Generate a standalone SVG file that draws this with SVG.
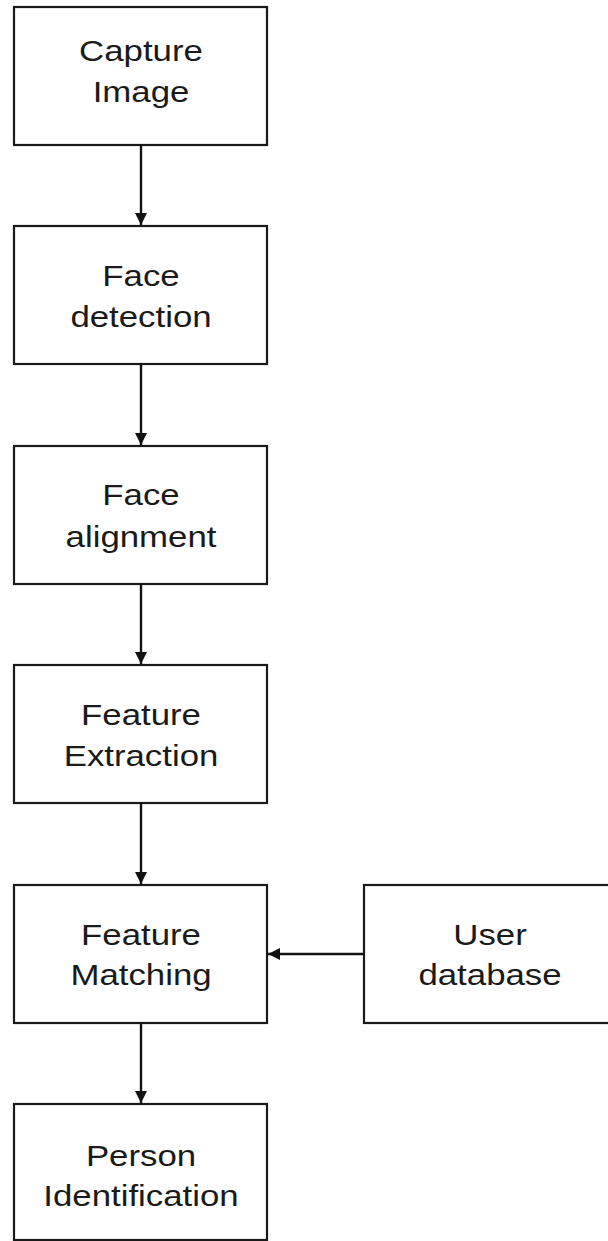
<svg xmlns="http://www.w3.org/2000/svg" width="608" height="1241" viewBox="0 0 608 1241">
  <style>
    .box { fill: #ffffff; stroke: #1a1a1a; stroke-width: 2.2; }
    .lbl { font-family: "Liberation Sans", Arial, sans-serif; font-size: 29px; fill: #1a1a1a; text-anchor: middle; }
    .wire { stroke: #111111; stroke-width: 2.4; fill: none; }
  </style>
  <defs>
    <marker id="head" viewBox="0 0 10 10" refX="10" refY="5" markerWidth="5" markerHeight="5" orient="auto" markerUnits="strokeWidth">
      <path d="M0,0 L10,5 L0,10 z" fill="#111111"/>
    </marker>
  </defs>
  <rect width="608" height="1241" fill="#ffffff"/>

  <g id="capture-image">
    <rect class="box" x="14" y="7" width="253" height="138"/>
    <text class="lbl" transform="translate(141,61) scale(1.2,1)">Capture</text>
    <text class="lbl" transform="translate(141,102) scale(1.2,1)">Image</text>
  </g>

  <g id="face-detection">
    <rect class="box" x="14" y="226" width="253" height="138"/>
    <text class="lbl" transform="translate(141,286) scale(1.2,1)">Face</text>
    <text class="lbl" transform="translate(141,327) scale(1.2,1)">detection</text>
  </g>

  <g id="face-alignment">
    <rect class="box" x="14" y="446" width="253" height="138"/>
    <text class="lbl" transform="translate(141,505) scale(1.2,1)">Face</text>
    <text class="lbl" transform="translate(141,547) scale(1.2,1)">alignment</text>
  </g>

  <g id="feature-extraction">
    <rect class="box" x="14" y="665" width="253" height="138"/>
    <text class="lbl" transform="translate(141,725) scale(1.2,1)">Feature</text>
    <text class="lbl" transform="translate(141,766) scale(1.2,1)">Extraction</text>
  </g>

  <g id="feature-matching">
    <rect class="box" x="14" y="885" width="253" height="138"/>
    <text class="lbl" transform="translate(141,945) scale(1.2,1)">Feature</text>
    <text class="lbl" transform="translate(141,985) scale(1.2,1)">Matching</text>
  </g>

  <g id="user-database">
    <rect class="box" x="364" y="885" width="260" height="138"/>
    <text class="lbl" transform="translate(490,945) scale(1.2,1)">User</text>
    <text class="lbl" transform="translate(490,985) scale(1.2,1)">database</text>
  </g>

  <g id="person-identification">
    <rect class="box" x="14" y="1104" width="253" height="136"/>
    <text class="lbl" transform="translate(141,1166) scale(1.2,1)">Person</text>
    <text class="lbl" transform="translate(141,1206) scale(1.2,1)">Identification</text>
  </g>

  <g id="connectors">
    <line class="wire" x1="141" y1="145" x2="141" y2="225" marker-end="url(#head)"/>
    <line class="wire" x1="141" y1="364" x2="141" y2="445" marker-end="url(#head)"/>
    <line class="wire" x1="141" y1="584" x2="141" y2="664" marker-end="url(#head)"/>
    <line class="wire" x1="141" y1="803" x2="141" y2="884" marker-end="url(#head)"/>
    <line class="wire" x1="141" y1="1023" x2="141" y2="1103" marker-end="url(#head)"/>
    <line class="wire" x1="364" y1="954" x2="268" y2="954" marker-end="url(#head)"/>
  </g>
</svg>
